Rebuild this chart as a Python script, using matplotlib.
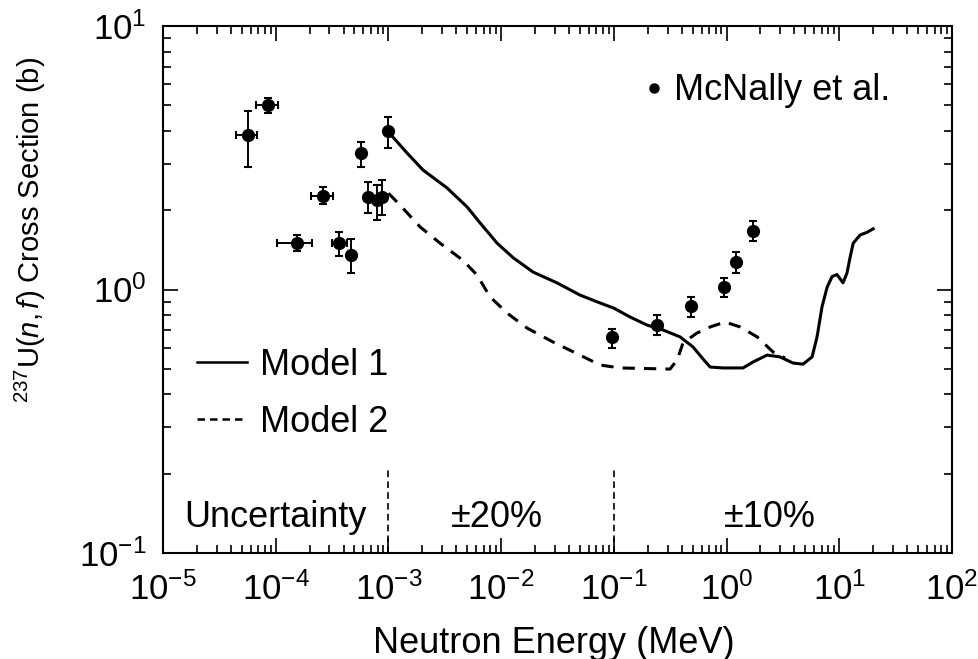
import numpy as np
import matplotlib
matplotlib.use('Agg')
import matplotlib.pyplot as plt

# McNally et al. data points (MeV, barns)
e_pts = [5.7e-5, 8.5e-5, 1.55e-4, 2.63e-4, 3.65e-4, 4.66e-4, 5.7e-4,
         6.6e-4, 7.9e-4, 8.8e-4, 1.0e-3, 0.096, 0.24, 0.48, 0.95, 1.21, 1.72]
e_lo = [4.45e-5, 6.68e-5, 1.03e-4, 2.06e-4, 3.16e-4, 4.66e-4, 5.7e-4,
        6.6e-4, 7.9e-4, 8.8e-4, 1.0e-3, 0.096, 0.24, 0.48, 0.95, 1.21, 1.72]
e_hi = [6.82e-5, 1.05e-4, 2.10e-4, 3.22e-4, 4.29e-4, 4.66e-4, 5.7e-4,
        6.6e-4, 7.9e-4, 8.8e-4, 1.0e-3, 0.096, 0.24, 0.48, 0.95, 1.21, 1.72]
s_pts = [3.86, 5.0, 1.50, 2.26, 1.50, 1.35, 3.30,
         2.24, 2.19, 2.24, 3.99, 0.66, 0.733, 0.866, 1.02, 1.27, 1.67]
s_lo = [2.92, 4.67, 1.40, 2.11, 1.34, 1.16, 2.92,
        1.95, 1.84, 1.92, 3.44, 0.60, 0.67, 0.79, 0.94, 1.16, 1.53]
s_hi = [4.76, 5.33, 1.61, 2.45, 1.65, 1.56, 3.63,
        2.56, 2.49, 2.61, 4.51, 0.71, 0.80, 0.94, 1.11, 1.39, 1.82]

# Model 1 (solid)
e_m1 = [1.0e-3, 1.46e-3, 2.03e-3, 3.31e-3, 4.98e-3, 6.5e-3, 9.2e-3, 1.28e-2,
        1.92e-2, 3.13e-2, 5.0e-2, 7.55e-2, 0.1, 0.139, 0.197, 0.274, 0.387,
        0.505, 0.607, 0.715, 0.93, 1.40, 1.72, 2.29, 2.98, 3.89, 4.77, 5.74,
        6.35, 7.03, 7.8, 8.63, 9.55, 10.8, 11.7, 12.5, 13.3, 15.3, 17.7, 20.0]
s_m1 = [3.96, 3.30, 2.84, 2.43, 2.06, 1.79, 1.50, 1.32,
        1.165, 1.06, 0.953, 0.889, 0.85, 0.787, 0.733, 0.702, 0.661,
        0.605, 0.550, 0.508, 0.504, 0.504, 0.531, 0.564, 0.555, 0.526, 0.521, 0.555,
        0.661, 0.86, 1.02, 1.12, 1.14, 1.06, 1.155, 1.33, 1.50, 1.61, 1.65, 1.70]

# Model 2 (dashed)
e_m2 = [1.0e-3, 1.27e-3, 1.905e-3, 2.87e-3, 4.59e-3, 6.11e-3, 7.98e-3, 1.13e-2,
        1.70e-2, 2.89e-2, 5.0e-2, 7.55e-2, 0.1135, 0.315, 0.364, 0.411, 0.547,
        0.715, 0.97, 1.32, 1.87, 2.59, 3.30]
s_m2 = [2.32, 2.09, 1.73, 1.50, 1.29, 1.135, 0.938, 0.814,
        0.714, 0.632, 0.564, 0.517, 0.504, 0.499, 0.540, 0.627, 0.684,
        0.721, 0.753, 0.721, 0.661, 0.579, 0.550]

region_bounds = [1e-3, 1e-1]
region_labels = ['Uncertainty', '±20%', '±10%']
region_x = [1.0e-4, 9.2e-3, 2.43]

plt.rcParams['font.family'] = ['Liberation Sans', 'DejaVu Sans']
plt.rcParams['mathtext.fontset'] = 'custom'
plt.rcParams['mathtext.rm'] = 'Liberation Sans'
plt.rcParams['mathtext.it'] = 'Liberation Sans:italic'
plt.rcParams['mathtext.bf'] = 'Liberation Sans:bold'

fig = plt.figure(figsize=(9.79, 6.59), dpi=100)
ax = fig.add_axes([0.1665, 0.1608, 0.8059, 0.7997])

ax.set_xscale('log')
ax.set_yscale('log')
ax.set_xlim(1e-5, 1e2)
ax.set_ylim(1e-1, 1e1)

e = np.array(e_pts)
s = np.array(s_pts)
xerr = [e - np.array(e_lo), np.array(e_hi) - e]
yerr = [s - np.array(s_lo), np.array(s_hi) - s]
ax.errorbar(e, s, xerr=xerr, yerr=yerr, fmt='o', color='black', ms=8.5,
            elinewidth=1.4, capsize=3, capthick=1.5, zorder=3)

ax.plot(e_m1, s_m1, '-', color='black', lw=2.2)
ax.plot(e_m2, s_m2, color='black', lw=2.2, dashes=(4, 3))

for b in region_bounds:
    ax.plot([b, b], [0.1, 0.21], color='black', lw=1.2, dashes=(4, 2.5))
for xx, lab in zip(region_x, region_labels):
    ax.text(xx, 0.137, lab, ha='center', va='center', fontsize=26)

h1, = ax.plot([], [], '-', color='black', lw=1.8)
h2, = ax.plot([], [], color='black', lw=1.8, dashes=(3, 2))
leg1 = ax.legend([h1, h2], ['Model 1', 'Model 2'], loc='upper left',
                 bbox_to_anchor=(0.043, 0.39), frameon=False, fontsize=26,
                 handlelength=1.4, handletextpad=0.35, labelspacing=0.62,
                 borderpad=0, borderaxespad=0)
ax.add_artist(leg1)
h3, = ax.plot([], [], 'o', color='black', ms=6.5)
ax.legend([h3], ['McNally et al.'], loc='upper left', bbox_to_anchor=(0.613, 0.91),
          frameon=False, fontsize=26, handlelength=0.4, handletextpad=0.35,
          borderpad=0, borderaxespad=0)

ax.tick_params(which='both', direction='in', top=True, right=True, width=1.2)
ax.tick_params(which='major', length=11, labelsize=25)
ax.tick_params(which='minor', length=6)
ax.tick_params(axis='x', which='major', pad=14)
ax.tick_params(axis='y', which='major', pad=12)
ax.xaxis.set_major_locator(matplotlib.ticker.LogLocator(base=10, numticks=20))
ax.yaxis.set_major_locator(matplotlib.ticker.LogLocator(base=10, numticks=20))
ax.xaxis.set_minor_locator(matplotlib.ticker.LogLocator(base=10, subs=np.arange(2, 10), numticks=20))
ax.xaxis.set_minor_formatter(matplotlib.ticker.NullFormatter())
ax.yaxis.set_minor_locator(matplotlib.ticker.LogLocator(base=10, subs=np.arange(2, 10), numticks=20))
ax.yaxis.set_minor_formatter(matplotlib.ticker.NullFormatter())
for sp in ax.spines.values():
    sp.set_linewidth(1.5)

ax.set_xlabel('Neutron Energy (MeV)', fontsize=26)
ax.xaxis.set_label_coords(0.495, -0.138)
ax.set_ylabel(r'$^{237}$U($n,f$) Cross Section (b)', fontsize=21)
ax.yaxis.set_label_coords(-0.146, 0.613)

plt.savefig('out.png', dpi=100)
